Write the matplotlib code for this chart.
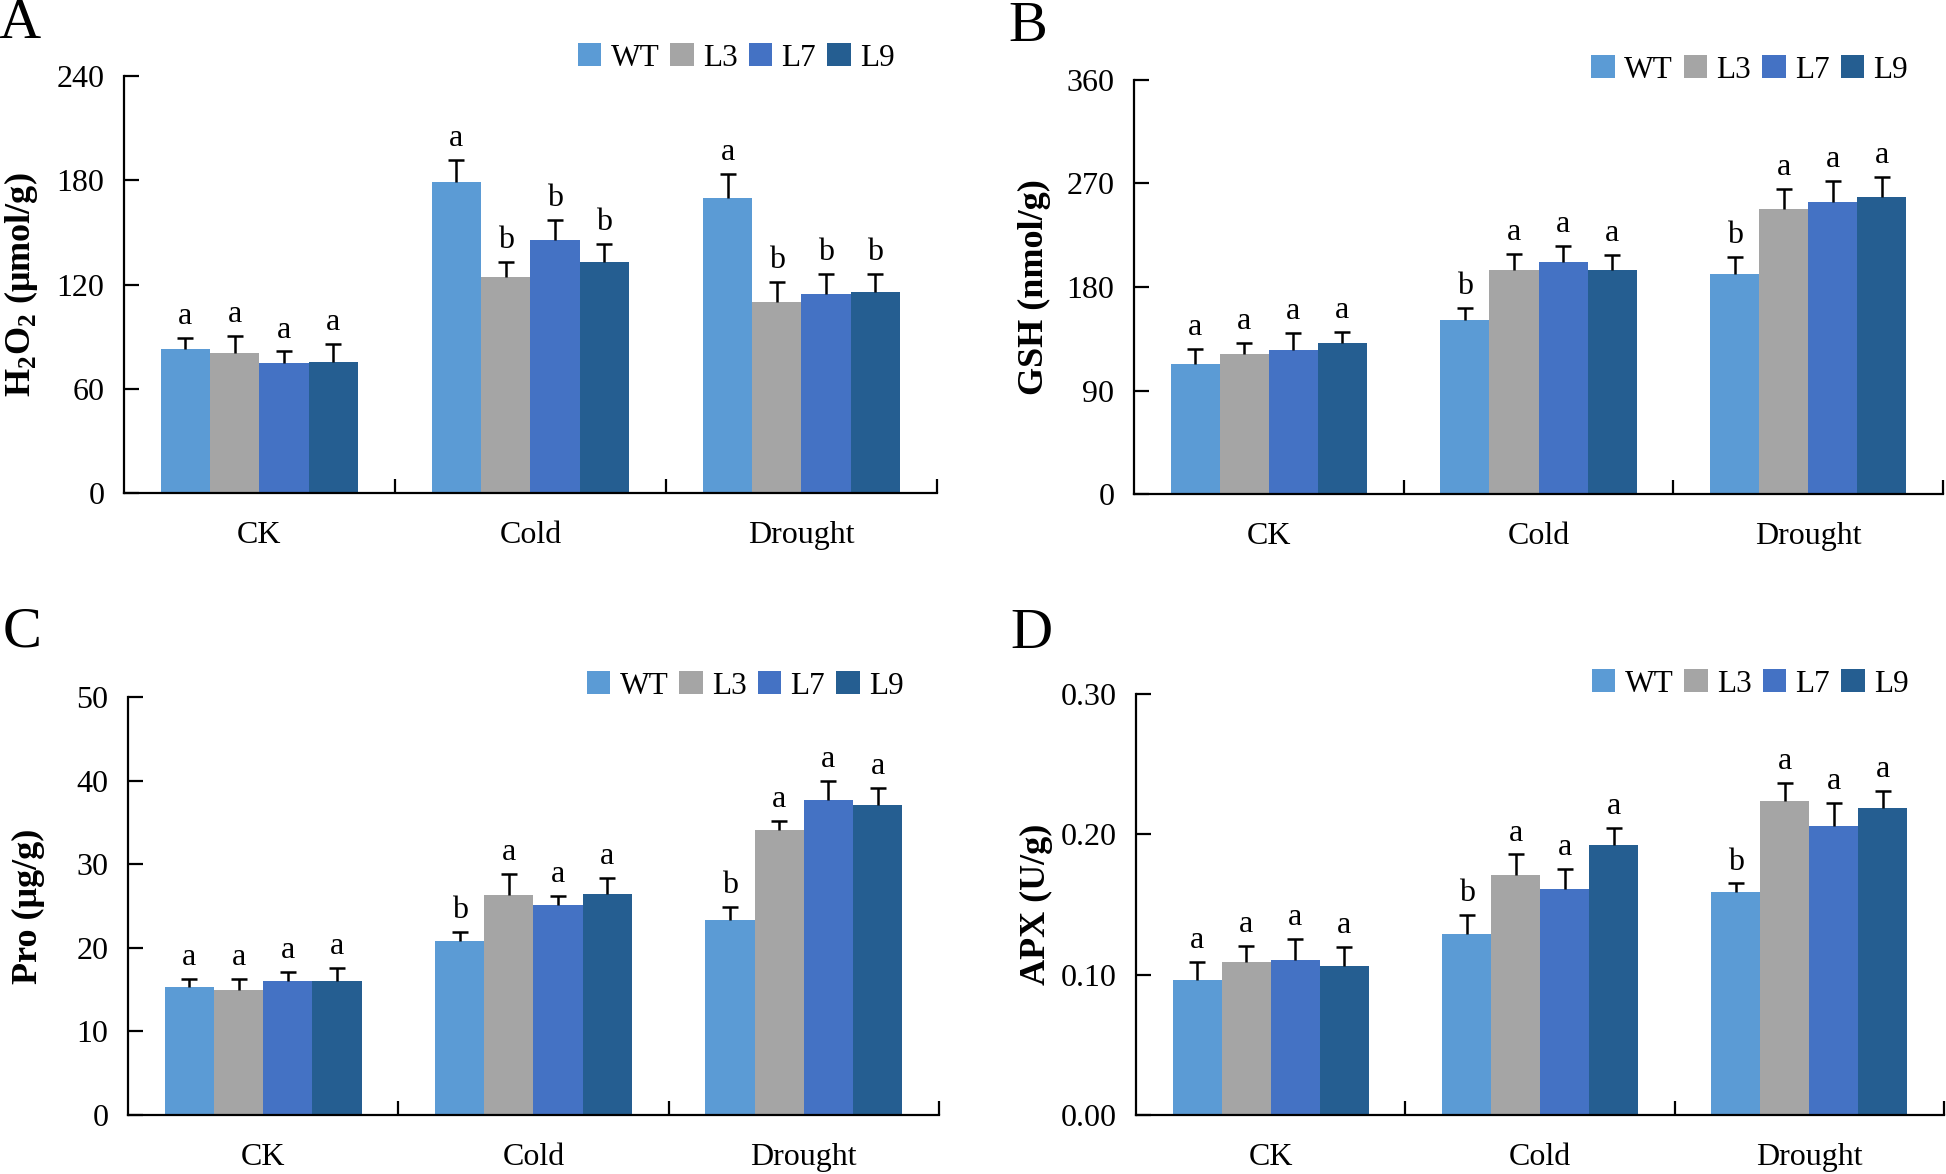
import numpy as np
import matplotlib
matplotlib.use("Agg")
import matplotlib.pyplot as plt

plt.rcParams['font.family'] = ['Liberation Serif', 'DejaVu Serif']
plt.rcParams['mathtext.fontset'] = 'custom'
plt.rcParams['mathtext.rm'] = 'Liberation Serif:bold'
plt.rcParams['mathtext.bf'] = 'Liberation Serif:bold'

groups = ['CK', 'Cold', 'Drought']
lines = ['WT', 'L3', 'L7', 'L9']
colors = ['#5B9BD5', '#A5A5A5', '#4472C4', '#255E91']

# H2O2 (umol/g): rows = lines, columns = groups
h2o2 = [[82.8, 179.2, 169.7],
        [80.6, 124.2, 110.2],
        [74.8, 145.8, 114.5],
        [75.5, 132.8, 115.8]]
h2o2_err = [[6.3, 12.5, 13.8],
            [9.7, 8.6, 11.4],
            [6.7, 11.2, 11.4],
            [10.3, 10.8, 10.1]]
h2o2_sig = [['a', 'a', 'a'], ['a', 'b', 'b'], ['a', 'b', 'b'], ['a', 'b', 'b']]

gsh = [[112.9, 151.2, 191.1],
       [122.1, 194.7, 247.4],
       [125.0, 201.6, 254.3],
       [131.2, 194.7, 257.9]]
gsh_err = [[13.4, 10.8, 15.4],
           [9.1, 14.4, 18.0],
           [15.4, 14.4, 17.7],
           [9.9, 12.8, 17.7]]
gsh_sig = [['a', 'b', 'b'], ['a', 'a', 'a'], ['a', 'a', 'a'], ['a', 'a', 'a']]

pro = [[15.27, 20.8, 23.32],
       [15.0, 26.33, 34.1],
       [15.99, 25.07, 37.69],
       [15.99, 26.46, 37.06]]
pro_err = [[1.04, 1.12, 1.57],
           [1.3, 2.51, 1.12],
           [1.17, 1.17, 2.25],
           [1.62, 1.93, 2.02]]
pro_sig = [['a', 'b', 'b'], ['a', 'a', 'a'], ['a', 'a', 'a'], ['a', 'a', 'a']]

apx = [[0.0962, 0.1286, 0.1591],
       [0.109, 0.1709, 0.2237],
       [0.1106, 0.1607, 0.2057],
       [0.1061, 0.1926, 0.2186]]
apx_err = [[0.0126, 0.0139, 0.0059],
           [0.0115, 0.0147, 0.0126],
           [0.0148, 0.0148, 0.0166],
           [0.0139, 0.0121, 0.0123]]
apx_sig = [['a', 'b', 'b'], ['a', 'a', 'a'], ['a', 'a', 'a'], ['a', 'a', 'a']]

FS = 23


def panel(ax, vals, errs, sigs, yticks, ylabel, ticklabels, letter, leg_xy):
    x = np.arange(len(groups))
    w = 0.182
    for i in range(len(lines)):
        xs = x + (i - 1.5) * w
        ax.bar(xs, vals[i], width=w, color=colors[i], label=lines[i], zorder=2)
        eb = ax.errorbar(xs, vals[i], yerr=[np.zeros(len(groups)), errs[i]], fmt='none',
                         ecolor='black', elinewidth=1.8, capsize=5.5, capthick=1.8, zorder=3)
        # only the upper cap, like the original
        eb[1][0].set_visible(False)
        for j in range(len(groups)):
            ax.annotate(sigs[i][j], (xs[j], vals[i][j] + errs[i][j]), xytext=(0, 10),
                        textcoords='offset points', ha='center', va='baseline', fontsize=FS)
    ax.set_xlim(-0.5, 2.5)
    ax.set_ylim(yticks[0], yticks[-1])
    ax.set_yticks(yticks)
    ax.set_yticklabels(ticklabels)
    ax.set_xticks([0.5, 1.5, 2.5])
    ax.set_xticklabels([])
    ax.set_xticks(x, minor=True)
    ax.set_xticklabels(groups, minor=True)
    ax.tick_params(axis='x', which='major', direction='in', length=10, width=1.6)
    ax.tick_params(axis='x', which='minor', length=0, pad=20, labelsize=FS)
    ax.tick_params(axis='y', direction='in', length=11, width=1.6, pad=14, labelsize=FS)
    for s in ['top', 'right']:
        ax.spines[s].set_visible(False)
    for s in ['left', 'bottom']:
        ax.spines[s].set_linewidth(1.6)
    ax.set_ylabel(ylabel, fontsize=26, fontweight='bold')
    ax.yaxis.set_label_coords(-0.103, 0.5)
    ax.legend(loc='center', bbox_to_anchor=leg_xy, ncol=4, frameon=False, fontsize=22.5,
              handlelength=0.75, handleheight=0.75, handletextpad=0.3, columnspacing=0.35,
              borderpad=0)
    ax.text(-0.155, letter[1], letter[0], transform=ax.transAxes, fontsize=42,
            ha='left', va='baseline')


fig = plt.figure(figsize=(19.46, 11.74), dpi=100)
axA = fig.add_axes([0.0637, 0.580, 0.4178, 0.3553])
axB = fig.add_axes([0.5827, 0.5792, 0.4158, 0.3527])
axC = fig.add_axes([0.0658, 0.0503, 0.4167, 0.3560])
axD = fig.add_axes([0.5838, 0.0503, 0.4152, 0.3586])

panel(axA, h2o2, h2o2_err, h2o2_sig, [0, 60, 120, 180, 240],
      'H$_\\mathbf{2}$O$_\\mathbf{2}$ (μmol/g)', ['0', '60', '120', '180', '240'],
      ('A', 1.09), (0.753, 1.043))
panel(axB, gsh, gsh_err, gsh_sig, [0, 90, 180, 270, 360],
      'GSH (nmol/g)', ['0', '90', '180', '270', '360'], ('B', 1.095), (0.761, 1.024))
panel(axC, pro, pro_err, pro_sig, [0, 10, 20, 30, 40, 50],
      'Pro (μg/g)', ['0', '10', '20', '30', '40', '50'], ('C', 1.12), (0.761, 1.026))
panel(axD, apx, apx_err, apx_sig, [0, 0.1, 0.2, 0.3],
      'APX (U/g)', ['0.00', '0.10', '0.20', '0.30'], ('D', 1.11), (0.76, 1.024))

fig.savefig('out.png', dpi=100)
